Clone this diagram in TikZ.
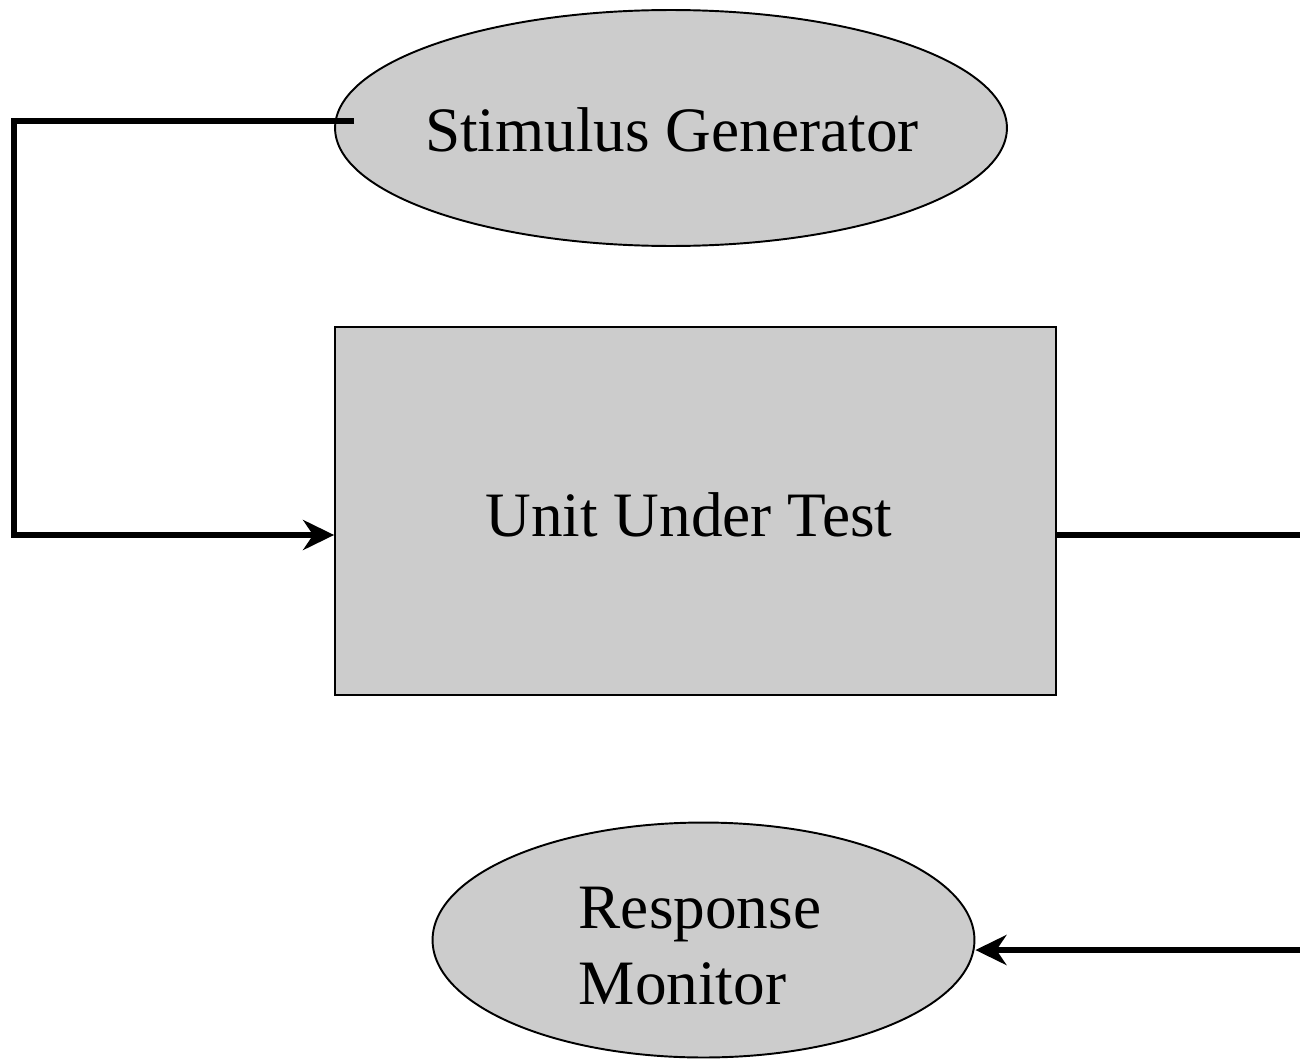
\documentclass[tikz,border=0pt]{standalone}
\usepackage{fontspec}
\setmainfont{Liberation Serif}
\usetikzlibrary{shapes.geometric,arrows.meta}
\begin{document}
\begin{tikzpicture}[x=0.02cm,y=-0.02cm,
  shade/.style={fill=black!20,draw=black,line width=1.1pt},
  label/.style={font=\fontsize{36}{43}\selectfont},
  wire/.style={line width=3.2pt},
  arr/.style={wire,-{Stealth[length=0.62cm,width=0.6cm,inset=0.2cm]}}]
\useasboundingbox (0,0) rectangle (1300,1061);
\node[shade,ellipse,minimum width=13.44cm,minimum height=4.72cm,inner sep=0pt] (sg) at (671,128) {};
\node[label] at (672,130) {Stimulus Generator};
\node[shade,rectangle,minimum width=14.42cm,minimum height=7.36cm,inner sep=0pt] (uut) at (695.5,511) {};
\node[label] at (689,515) {Unit Under Test};
\node[shade,ellipse,minimum width=10.84cm,minimum height=4.7cm,inner sep=0pt] (rm) at (703.5,940) {};
\node[label,align=left] at (700,946) {Response\\Monitor};
\coordinate (outR) at (1300,535);
\coordinate (inR) at (1300,950);
\draw[arr] ([xshift=0.4cm,yshift=0.14cm]sg.west) -- ++(-340,0) |- ([yshift=-0.48cm]uut.west);
\draw[wire] ([yshift=-0.48cm]uut.east) -- (outR);
\draw[arr] (inR) -- (rm.east |- inR);
\end{tikzpicture}
\end{document}
